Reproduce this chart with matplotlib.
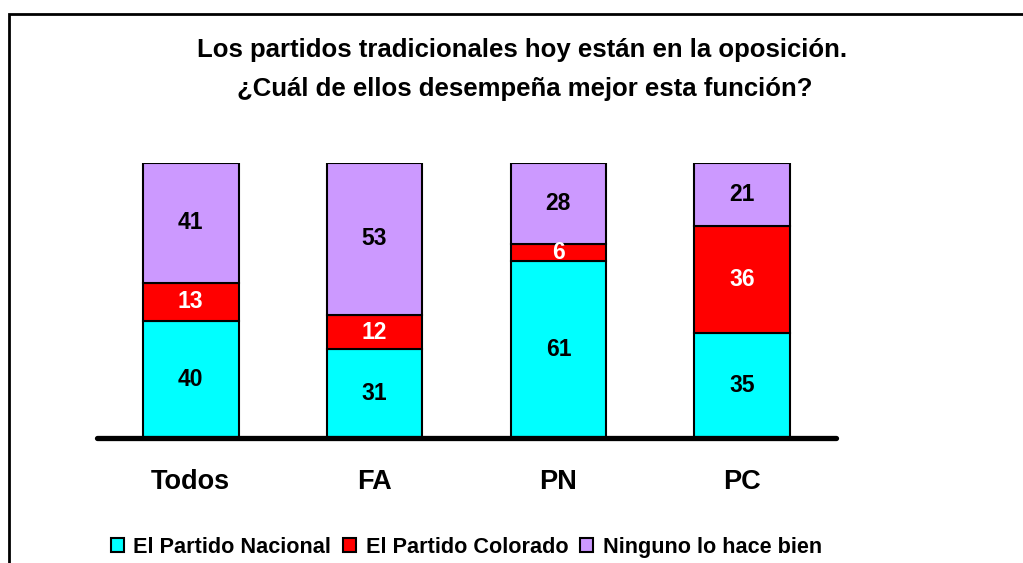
import matplotlib.pyplot as plt
from matplotlib.patches import Rectangle
import numpy as np

plt.rcParams['font.family'] = ['Liberation Sans', 'DejaVu Sans']
plt.rcParams['font.weight'] = 'bold'

categorias = ["Todos", "FA", "PN", "PC"]
series = ["El Partido Nacional", "El Partido Colorado", "Ninguno lo hace bien"]
nacional = [40, 31, 61, 35]
colorado = [13, 12, 6, 36]
ninguno = [41, 53, 28, 21]

colores = ["#00FFFF", "#FF0000", "#CC99FF"]
color_texto = ["black", "white", "black"]

fig = plt.figure(figsize=(10.23, 5.63), dpi=100)
ax = fig.add_axes([97 / 1023, 125 / 563, 739 / 1023, 275 / 563])

datos = np.array([nacional, colorado, ninguno], dtype=float)
totales = datos.sum(axis=0)
pct = datos / totales * 100

x = np.arange(len(categorias))
base = np.zeros(len(categorias))
for i, nombre in enumerate(series):
    ax.bar(x, pct[i], 0.52, bottom=base, color=colores[i], edgecolor="black",
           linewidth=1.5, label=nombre, zorder=2)
    for j in range(len(categorias)):
        ax.text(x[j], base[j] + pct[i][j] / 2, str(int(datos[i][j])),
                ha="center", va="center", fontsize=16.5, fontweight="bold",
                color=color_texto[i], zorder=3)
    base += pct[i]

ax.set_xlim(-0.51, 3.51)
ax.set_ylim(0, 100)
for s in ["top", "right", "left"]:
    ax.spines[s].set_visible(False)
ax.spines["bottom"].set_linewidth(3.8)
ax.spines["bottom"].set_capstyle("round")
ax.spines["bottom"].set_zorder(4)
ax.set_yticks([])
ax.set_xticks(x)
ax.set_xticklabels(categorias, fontsize=19.5, fontweight="bold")
ax.tick_params(axis="x", length=0, pad=22)

fig.text(0.51, 1 - 69.5 / 563, "Los partidos tradicionales hoy están en la oposición.\n ¿Cuál de ellos desempeña mejor esta función?",
         ha="center", va="center", fontsize=18.5, fontweight="bold", linespacing=1.8)

leg = ax.legend(loc="center", bbox_to_anchor=(0.5, -0.397), ncol=3, frameon=False,
                prop={"size": 15.6, "weight": "bold"}, handlelength=0.6, handleheight=0.6,
                handletextpad=0.45, columnspacing=0.55)

fig.patches.append(Rectangle((9 / 1023, -0.1), 1.2, (563 - 14) / 563 + 0.1,
                             transform=fig.transFigure, fill=False,
                             edgecolor="black", linewidth=2))

fig.savefig("out.png", dpi=100)
